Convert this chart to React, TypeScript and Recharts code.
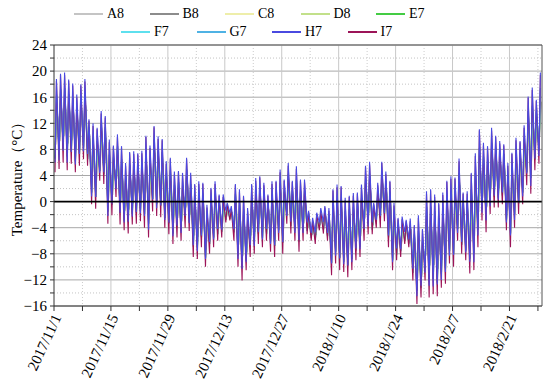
import React from 'react';
import { LineChart, Line, XAxis, YAxis, CartesianGrid, ReferenceLine, Legend } from 'recharts';

const seriesNames = ['A8', 'B8', 'C8', 'D8', 'E7', 'F7', 'G7', 'H7', 'I7'];
const seriesColors = ['#c4c4c4', '#8c8c8c', '#eeeeaa', '#c2e08a', '#44cc44', '#5ee0ee', '#4fb2e4', '#4a4ae0', '#9c1458'];
// drawing order (surface sensor H7 drawn last so the blue sits on top)
const drawOrder = [0, 1, 2, 3, 4, 5, 6, 8, 7];

const dateLabels = ['2017/11/1', '2017/11/15', '2017/11/29', '2017/12/13', '2017/12/27', '2018/1/10', '2018/1/24', '2018/2/7', '2018/2/21'];
const weekTicks = [0, 7, 14, 21, 28, 35, 42, 49, 56, 63, 70, 77, 84, 91, 98, 105, 112, 119];
const yTicks = [-16, -14, -12, -10, -8, -6, -4, -2, 0, 2, 4, 6, 8, 10, 12, 14, 16, 18, 20, 22, 24];
const yMajor = [-16, -12, -8, -4, 4, 8, 12, 16, 20, 24];
const yMinor = [-14, -10, -6, -2, 2, 6, 10, 14, 18, 22];
const xMajor = [14, 28, 42, 56, 70, 84, 98, 112];
const xMinor = [7, 21, 35, 49, 63, 77, 91, 105, 119];

// daily maximum / minimum, day 0 = 2017/11/1
const i7High = [
  18.5, 19.4, 19.4, 18.5, 17.8, 16.0, 17.8, 18.4, 12.4, 11.6,
  11.1, 13.5, 12.9, 9.1, 8.4, 9.9, 8.3, 5.5, 7.4, 7.3,
  7.2, 7.4, 9.9, 8.2, 11.4, 9.6, 9.4, 5.8, 6.5, 4.2,
  4.5, 4.0, 6.5, 4.0, 2.5, 2.7, 2.7, -0.9, 1.9, 2.7,
  0.9, 0.7, -0.4, -1.1, 2.5, 1.5, 0.7, -1.4, 2.5, 3.2,
  3.7, 2.5, 0.9, 2.7, 3.0, 4.5, 3.2, 5.5, 3.0, 5.0,
  3.2, 3.0, -1.6, -2.9, -1.9, -1.4, -0.9, -1.4, 1.7, 2.2,
  2.2, 0.2, 0.7, 0.9, 1.2, 2.2, 5.3, 5.7, -0.4, 2.5,
  5.9, 4.2, 3.0, -0.6, -2.7, -2.7, -3.0, -3.0, -3.8, -2.5,
  -4.4, 1.2, 1.7, 0.7, -0.4, 1.0, 3.0, 3.5, 3.5, 6.2,
  1.2, 1.2, 4.2, 7.0, 10.9, 8.6, 8.3, 10.9, 9.9, 8.9,
  8.6, 5.5, 7.3, 9.4, 9.1, 11.3, 15.9, 17.1, 15.4, 19.4,
];
const i7Low = [
  4.5, 5.0, 6.0, 4.8, 5.8, 4.5, 5.5, 6.5, 5.5, -0.4,
  -1.1, 3.2, 2.7, -3.4, -2.1, 0.7, -3.5, -4.4, -4.9, -3.5,
  -3.4, -3.0, -4.0, -5.5, -1.5, -2.2, -2.4, -4.0, -5.0, -6.5,
  -5.5, -6.0, -4.0, -4.5, -8.5, -8.8, -7.0, -10.0, -8.0, -7.0,
  -6.0, -5.5, -3.2, -2.9, -6.0, -10.0, -12.1, -10.5, -8.5, -8.0,
  -6.5, -7.0, -6.0, -7.7, -8.5, -6.0, -8.0, -3.4, -4.9, -6.0,
  -7.7, -6.0, -5.0, -6.0, -6.5, -4.4, -4.9, -6.0, -11.3, -9.5,
  -10.5, -10.8, -11.6, -10.5, -9.0, -8.5, -6.0, -5.0, -5.0, -4.0,
  -4.0, -3.0, -7.0, -10.5, -9.0, -8.5, -6.5, -7.0, -12.1, -15.7,
  -14.7, -12.1, -14.7, -14.2, -14.5, -13.2, -12.6, -9.5, -10.0, -6.0,
  -8.0, -9.0, -11.0, -10.5, -7.0, -2.9, -4.7, -1.9, -0.9, -0.9,
  -0.4, -4.4, -7.0, -4.0, -1.9, -0.4, 2.5, 1.2, 4.8, 5.8,
];
const h7High = [
  18.8, 19.6, 19.8, 18.7, 18.1, 16.4, 18.0, 18.8, 12.6, 12.0,
  11.3, 13.9, 13.1, 9.5, 8.6, 10.3, 8.5, 5.9, 7.6, 7.7,
  7.4, 7.8, 10.1, 8.6, 11.6, 10.0, 9.6, 6.2, 6.7, 4.6,
  4.7, 4.4, 6.7, 4.4, 2.7, 3.1, 2.9, -0.5, 2.1, 3.1,
  1.1, 1.1, -0.2, -0.7, 2.7, 1.9, 0.9, -1.0, 2.7, 3.6,
  3.9, 2.9, 1.1, 3.1, 3.2, 4.9, 3.4, 5.9, 3.2, 5.4,
  3.4, 3.4, -1.4, -2.5, -1.7, -1.0, -0.7, -1.0, 1.9, 2.6,
  2.4, 0.6, 0.9, 1.3, 1.4, 2.6, 5.5, 6.1, -0.2, 2.9,
  6.1, 4.6, 3.2, -0.2, -2.5, -2.3, -2.8, -2.6, -3.6, -2.1,
  -4.2, 1.6, 1.9, 1.1, -0.2, 1.4, 3.2, 3.9, 3.7, 6.6,
  1.4, 1.6, 4.4, 7.4, 11.1, 9.0, 8.5, 11.3, 10.1, 9.3,
  8.8, 5.9, 7.5, 9.8, 9.3, 11.7, 16.1, 17.5, 15.6, 19.8,
];
const h7Low = [
  6.0, 6.3, 7.8, 6.0, 7.6, 5.7, 7.3, 7.7, 7.3, 0.8,
  0.7, 4.4, 4.5, -2.2, -0.3, 1.9, -1.7, -3.2, -3.1, -2.3,
  -1.6, -1.8, -2.2, -4.3, 0.3, -1.0, -0.6, -2.8, -3.2, -5.3,
  -3.7, -4.8, -2.2, -3.3, -6.7, -7.6, -5.2, -8.8, -6.2, -5.8,
  -4.2, -4.3, -1.4, -1.7, -4.2, -8.8, -10.3, -9.3, -6.7, -6.8,
  -4.7, -5.8, -4.2, -6.5, -6.7, -4.8, -6.2, -2.2, -3.1, -4.8,
  -5.9, -4.8, -3.2, -4.8, -4.7, -3.2, -3.1, -4.8, -9.5, -8.3,
  -8.7, -9.6, -9.8, -9.3, -7.2, -7.3, -4.2, -3.8, -3.2, -2.8,
  -2.2, -1.8, -5.2, -9.3, -7.2, -7.3, -4.7, -5.8, -10.3, -14.5,
  -12.9, -10.9, -12.9, -13.0, -12.7, -12.0, -10.8, -8.3, -8.2, -4.8,
  -6.2, -7.8, -9.2, -9.3, -5.2, -1.7, -2.9, -0.7, 0.9, 0.3,
  1.4, -3.2, -5.2, -2.8, -0.1, 0.8, 4.3, 2.4, 6.6, 7.0,
];
const midHigh = [
  16.4, 17.2, 17.4, 16.5, 16.0, 14.3, 16.0, 16.6, 11.4, 9.8,
  9.3, 12.0, 11.4, 7.2, 6.8, 8.5, 6.5, 4.0, 5.6, 5.7,
  5.6, 5.8, 7.8, 6.2, 9.5, 7.8, 7.6, 4.3, 4.8, 2.6,
  3.0, 2.5, 4.9, 2.7, 0.9, 1.0, 1.2, -2.3, 0.4, 1.2,
  -0.1, -0.2, -0.8, -1.4, 1.2, -0.2, -1.2, -2.8, 0.9, 1.5,
  2.2, 1.1, -0.1, 1.1, 1.3, 2.9, 1.5, 4.2, 1.8, 3.4,
  1.6, 1.7, -2.1, -3.4, -2.6, -1.9, -1.5, -2.1, -0.3, 0.4,
  0.3, -1.5, -1.2, -0.8, -0.3, 0.6, 3.6, 4.1, -1.1, 1.5,
  4.4, 3.1, 1.5, -2.1, -3.6, -3.6, -3.5, -3.6, -5.0, -4.5,
  -5.9, -0.8, -0.8, -1.5, -2.5, -1.1, 0.7, 1.6, 1.5, 4.4,
  -0.2, -0.3, 1.9, 4.4, 8.2, 6.9, 6.4, 9.0, 8.3, 7.4,
  7.3, 4.0, 5.2, 7.4, 7.5, 9.5, 13.9, 14.7, 13.8, 17.4,
];
const midLow = [
  6.6, 7.2, 8.0, 6.9, 7.6, 6.2, 7.3, 8.3, 6.5, 1.4,
  0.7, 4.7, 4.2, -1.5, -0.5, 2.1, -1.7, -2.9, -3.1, -1.9,
  -1.8, -1.4, -1.9, -3.4, 0.4, -0.4, -0.6, -2.5, -3.3, -4.9,
  -4.0, -4.5, -2.4, -3.2, -6.9, -7.1, -5.5, -8.6, -6.5, -5.5,
  -5.0, -4.6, -2.8, -2.6, -4.7, -8.3, -10.2, -9.1, -6.9, -6.3,
  -5.0, -5.6, -5.0, -6.1, -6.8, -4.4, -6.3, -2.1, -3.7, -4.4,
  -6.1, -4.7, -4.5, -5.5, -5.8, -3.9, -4.3, -5.3, -9.4, -7.7,
  -8.6, -9.2, -9.8, -8.8, -7.5, -6.9, -4.3, -3.4, -4.3, -3.0,
  -2.5, -1.9, -5.5, -9.0, -8.1, -7.6, -6.0, -6.4, -10.9, -13.7,
  -13.2, -10.1, -12.2, -12.0, -12.4, -11.1, -10.3, -7.6, -8.0, -4.2,
  -6.6, -7.5, -8.7, -7.9, -4.3, -1.2, -2.8, 0.0, 0.7, 0.6,
  0.9, -2.9, -4.9, -2.0, -0.3, 1.4, 4.5, 3.6, 6.4, 7.8,
];
const deepHigh = [
  14.3, 15.1, 15.4, 14.4, 14.2, 12.6, 14.1, 14.8, 10.3, 8.0,
  7.4, 10.4, 9.8, 5.4, 5.3, 7.1, 4.8, 2.5, 3.7, 4.1,
  4.0, 4.3, 5.7, 4.1, 7.5, 6.1, 5.9, 2.9, 3.1, 1.0,
  1.5, 1.0, 3.4, 1.5, -0.8, -0.7, -0.2, -3.6, -1.1, -0.2,
  -1.2, -1.2, -1.2, -1.6, -0.1, -1.9, -3.1, -4.1, -0.8, -0.2,
  0.6, -0.4, -1.2, -0.4, -0.5, 1.4, -0.2, 2.8, 0.6, 1.7,
  -0.1, 0.3, -2.6, -3.8, -3.3, -2.3, -2.1, -2.8, -2.2, -1.3,
  -1.6, -3.1, -3.0, -2.5, -1.9, -1.0, 1.9, 2.5, -1.8, 0.6,
  2.9, 2.0, 0.0, -3.6, -4.6, -4.4, -4.1, -4.2, -6.3, -6.5,
  -7.5, -2.8, -3.2, -3.8, -4.6, -3.3, -1.7, -0.4, -0.6, 2.5,
  -1.6, -1.9, -0.4, 1.8, 5.5, 5.2, 4.4, 7.1, 6.7, 6.0,
  5.9, 2.5, 3.0, 5.4, 5.8, 7.8, 11.9, 12.3, 12.2, 15.3,
];
const deepLow = [
  8.7, 9.3, 10.0, 8.9, 9.4, 7.9, 9.2, 10.1, 7.6, 3.2,
  2.6, 6.3, 5.8, 0.4, 1.0, 3.5, 0.0, -1.4, -1.2, -0.3,
  -0.2, 0.1, 0.2, -1.4, 2.4, 1.3, 1.1, -1.1, -1.6, -3.3,
  -2.5, -3.0, -0.9, -2.0, -5.2, -5.4, -4.1, -7.3, -5.0, -4.1,
  -3.9, -3.6, -2.4, -2.4, -3.5, -6.6, -8.3, -7.8, -5.2, -4.6,
  -3.4, -4.2, -3.9, -4.6, -5.0, -2.9, -4.6, -0.7, -2.5, -2.7,
  -4.4, -3.3, -4.0, -5.1, -5.1, -3.5, -3.7, -4.6, -7.4, -6.0,
  -6.7, -7.5, -7.9, -7.1, -5.9, -5.3, -2.6, -1.8, -3.6, -2.1,
  -1.0, -0.8, -4.0, -7.5, -7.1, -6.8, -5.5, -5.8, -9.6, -11.7,
  -11.6, -8.1, -9.8, -9.7, -10.3, -8.9, -7.9, -5.6, -5.9, -2.3,
  -5.2, -5.9, -6.4, -5.3, -1.6, 0.6, -0.8, 1.9, 2.3, 2.0,
  2.3, -1.4, -2.7, 0.0, 1.4, 3.1, 6.5, 6.0, 8.0, 9.9,
];

// which daily max/min pair each sensor uses, and the time of day of its min/max
const seriesSource = [
  { high: deepHigh, low: deepLow, lowAt: 0.42, highAt: 0.78 },
  { high: deepHigh, low: deepLow, lowAt: 0.4, highAt: 0.75 },
  { high: deepHigh, low: deepLow, lowAt: 0.3, highAt: 0.66 },
  { high: deepHigh, low: deepLow, lowAt: 0.3, highAt: 0.65 },
  { high: midHigh, low: midLow, lowAt: 0.28, highAt: 0.63 },
  { high: midHigh, low: midLow, lowAt: 0.27, highAt: 0.62 },
  { high: midHigh, low: midLow, lowAt: 0.26, highAt: 0.61 },
  { high: h7High, low: h7Low, lowAt: 0.25, highAt: 0.6 },
  { high: i7High, low: i7Low, lowAt: 0.25, highAt: 0.6 },
];

const FONT = '"Liberation Serif", "Times New Roman", serif';

const buildSeries = (high: number[], low: number[], lowAt: number, highAt: number) =>
  high.flatMap((h, d) => [
    { t: d + lowAt, v: low[d] },
    { t: d + highAt, v: h },
  ]);

const seriesData = seriesSource.map((s) => buildSeries(s.high, s.low, s.lowAt, s.highAt));

const formatY = (v: number) => {
  if (v % 4 !== 0) return '';
  return v < 0 ? '\u2212' + Math.abs(v) : String(v);
};

const DateTick = (props: any) => {
  const { x, y, payload } = props;
  if (payload.value % 14 !== 0) return <g />;
  const label = dateLabels[Math.round(payload.value / 14)];
  const tx = x + 3;
  const ty = y + 2;
  return (
    <text
      x={tx}
      y={ty}
      transform={`rotate(-65, ${tx}, ${ty})`}
      textAnchor="end"
      dy="0.35em"
      fontSize={15}
      fontFamily={FONT}
      fill="#000"
    >
      {label}
    </text>
  );
};

const YLabel = (props: any) => {
  const { viewBox } = props;
  const cx = 17;
  const cy = viewBox.y + viewBox.height / 2;
  return (
    <text
      x={cx}
      y={cy}
      transform={`rotate(-90, ${cx}, ${cy})`}
      textAnchor="middle"
      dominantBaseline="central"
      fontSize={15}
      fontFamily={FONT}
      fill="#000"
    >
      Temperature（°C）
    </text>
  );
};

const legendRows = [
  { start: 74, top: 6, items: [0, 1, 2, 3, 4] },
  { start: 121, top: 24, items: [5, 6, 7, 8] },
];

const LegendBox = () => (
  <div style={{ position: 'relative', width: 550, height: 42, fontFamily: FONT, fontSize: 14 }}>
    {legendRows.map((row) =>
      row.items.map((idx, k) => (
        <div
          key={seriesNames[idx]}
          style={{
            position: 'absolute',
            left: row.start + k * 75.5,
            top: row.top,
            height: 16,
            display: 'flex',
            alignItems: 'center',
            whiteSpace: 'nowrap',
          }}
        >
          <div style={{ width: 29, height: 1.2, background: seriesColors[idx], marginRight: 4 }} />
          <span>{seriesNames[idx]}</span>
        </div>
      ))
    )}
  </div>
);

export default function App() {
  return (
    <div style={{ position: 'absolute', left: 0, top: 0, background: '#fff' }}>
      <LineChart width={550} height={386} margin={{ top: 45, right: 8, bottom: 0, left: 14 }}>
        <CartesianGrid horizontalValues={yMajor} vertical={false} stroke="#a8a8a8" />
        <CartesianGrid horizontalValues={yMinor} vertical={false} stroke="#c4c4c4" strokeDasharray="1 2" />
        <CartesianGrid verticalValues={xMajor} horizontal={false} stroke="#c8c8c8" />
        <CartesianGrid verticalValues={xMinor} horizontal={false} stroke="#cccccc" strokeDasharray="1 2" />
        <XAxis
          dataKey="t"
          type="number"
          domain={[0, 120]}
          ticks={weekTicks}
          interval={0}
          allowDataOverflow
          height={80}
          tickSize={5}
          tickMargin={2}
          tick={<DateTick />}
          axisLine={{ stroke: '#333' }}
          tickLine={{ stroke: '#333' }}
        />
        <XAxis
          xAxisId="top"
          orientation="top"
          dataKey="t"
          type="number"
          domain={[0, 120]}
          ticks={weekTicks}
          interval={0}
          mirror
          height={1}
          tickSize={4}
          tick={() => <g />}
          axisLine={{ stroke: '#555' }}
          tickLine={{ stroke: '#555' }}
        />
        <YAxis
          type="number"
          domain={[-16, 24]}
          ticks={yTicks}
          interval={0}
          allowDataOverflow
          width={40}
          tickSize={4}
          tickMargin={3}
          tickFormatter={formatY}
          tick={{ fontSize: 15, fontFamily: FONT, fill: '#000' }}
          axisLine={{ stroke: '#333' }}
          tickLine={{ stroke: '#333' }}
          label={<YLabel />}
        />
        <YAxis
          yAxisId="right"
          orientation="right"
          type="number"
          domain={[-16, 24]}
          ticks={yTicks}
          interval={0}
          mirror
          width={1}
          tickSize={4}
          tick={() => <g />}
          axisLine={{ stroke: '#555' }}
          tickLine={{ stroke: '#555' }}
        />
        <Legend
          verticalAlign="middle"
          align="center"
          layout="horizontal"
          wrapperStyle={{ top: 0, left: 0, width: 550 }}
          content={() => <LegendBox />}
        />
        {drawOrder.map((i) => (
          <Line
            key={seriesNames[i]}
            name={seriesNames[i]}
            data={seriesData[i]}
            dataKey="v"
            type="linear"
            stroke={seriesColors[i]}
            strokeWidth={1.1}
            dot={false}
            activeDot={false}
            isAnimationActive={false}
          />
        ))}
        <ReferenceLine y={0} stroke="#000" strokeWidth={1.6} />
      </LineChart>
    </div>
  );
}
